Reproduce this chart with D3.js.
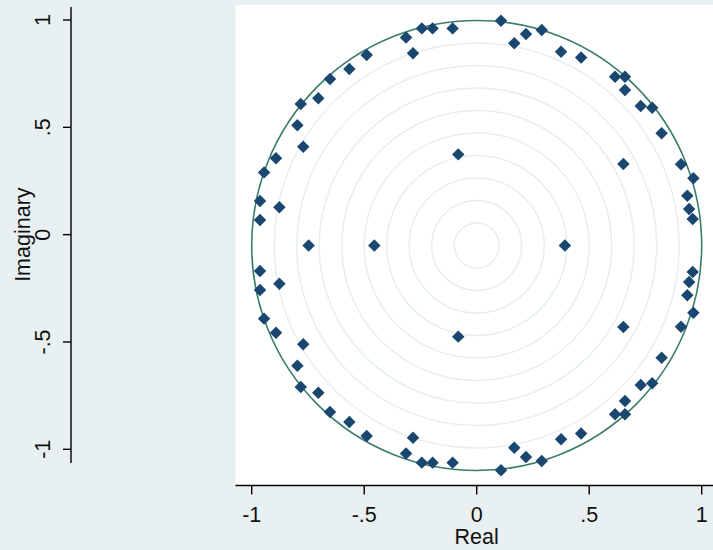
<!DOCTYPE html>
<html>
<head>
<meta charset="utf-8">
<script src="https://cdn.jsdelivr.net/npm/d3@7"></script>
<style>
  body { margin: 0; background: #e9f0f2; }
  svg { display: block; font-family: "Liberation Sans", Arial, sans-serif; }
</style>
</head>
<body>
<svg width="713" height="550"></svg>
<script>
// eigenvalues: complex pairs (upper half, conjugates added below) and real roots
const pairRe = [-0.244, -0.196, -0.107, -0.314, -0.283, -0.489, -0.566, -0.652, -0.704, -0.782,
                -0.797, -0.771, -0.892, -0.945, -0.082, -0.963, -0.877, -0.963,
                0.108, 0.219, 0.289, 0.167, 0.375, 0.464, 0.615, 0.659, 0.659, 0.729,
                0.780, 0.822, 0.908, 0.963, 0.936, 0.944, 0.960, 0.652];
const pairIm = [0.965, 0.965, 0.965, 0.924, 0.854, 0.847, 0.784, 0.740, 0.654, 0.629,
                0.534, 0.439, 0.388, 0.325, 0.405, 0.198, 0.170, 0.113,
                0.999, 0.940, 0.958, 0.899, 0.861, 0.836, 0.750, 0.750, 0.691, 0.620,
                0.612, 0.499, 0.361, 0.299, 0.221, 0.162, 0.118, 0.362];
const realRoots = [-0.747, -0.455, 0.392];

const gridRadii = [0.1, 0.2, 0.3, 0.4, 0.5, 0.6, 0.7, 0.8, 0.9];
const xTicks = [-1, -0.5, 0, 0.5, 1];
const yTicks = [-1, -0.5, 0, 0.5, 1];
const fmt = d => d === 0 ? "0" : String(d).replace("0.", ".");

const points = [];
pairRe.forEach((re, i) => {
  points.push({ re, im: pairIm[i] });
  points.push({ re, im: -pairIm[i] });
});
realRoots.forEach(re => points.push({ re, im: 0 }));

const svg = d3.select("svg");

// plot scales (equal aspect, unit circle)
const x = d3.scaleLinear().domain([-1, 1]).range([251.7, 701.7]);
const y = d3.scaleLinear().domain([-1, 1]).range([470.5, 20.5]);
// separate y axis as drawn in the figure
const yAxisScale = d3.scaleLinear().domain([-1, 1]).range([449.3, 20]);

// plot region
svg.append("rect")
  .attr("x", 235.5).attr("y", 5)
  .attr("width", 713 - 235.5).attr("height", 480)
  .attr("fill", "#ffffff");

const cx = x(0), cy = y(0), unit = x(1) - x(0);

// concentric grid circles
svg.append("g").selectAll("circle")
  .data(gridRadii)
  .join("circle")
  .attr("cx", cx).attr("cy", cy)
  .attr("r", d => d * unit)
  .attr("fill", "none")
  .attr("stroke", "#e6efef")
  .attr("stroke-width", 1.5);

// unit circle
svg.append("circle")
  .attr("cx", cx).attr("cy", cy)
  .attr("r", unit)
  .attr("fill", "none")
  .attr("stroke", "#3a7d6c")
  .attr("stroke-width", 1.6);

// eigenvalue markers
svg.append("g").selectAll("path")
  .data(points)
  .join("path")
  .attr("transform", d => "translate(" + x(d.re) + "," + y(d.im) + ") rotate(45)")
  .attr("d", d3.symbol().type(d3.symbolSquare).size(78))
  .attr("fill", "#1a476f");

// x axis
const xAxis = svg.append("g").attr("transform", "translate(0,485.5)");
xAxis.append("line")
  .attr("x1", 235.5).attr("x2", 713)
  .attr("stroke", "#000").attr("stroke-width", 1.4);
xAxis.selectAll(".tick")
  .data(xTicks)
  .join("line")
  .attr("x1", d => x(d)).attr("x2", d => x(d))
  .attr("y1", 0).attr("y2", 9)
  .attr("stroke", "#000").attr("stroke-width", 1.4);
xAxis.selectAll("text")
  .data(xTicks)
  .join("text")
  .attr("x", d => x(d)).attr("y", 36.5)
  .attr("text-anchor", "middle")
  .attr("font-size", 21.5)
  .attr("fill", "#111")
  .text(fmt);
svg.append("text")
  .attr("x", cx).attr("y", 544)
  .attr("text-anchor", "middle")
  .attr("font-size", 21.5)
  .attr("fill", "#111")
  .text("Real");

// y axis
const yAxis = svg.append("g").attr("transform", "translate(71,0)");
yAxis.append("line")
  .attr("y1", 7).attr("y2", 463)
  .attr("stroke", "#000").attr("stroke-width", 1.4);
yAxis.selectAll(".tick")
  .data(yTicks)
  .join("line")
  .attr("x1", -8).attr("x2", 0)
  .attr("y1", d => yAxisScale(d)).attr("y2", d => yAxisScale(d))
  .attr("stroke", "#000").attr("stroke-width", 1.4);
yAxis.selectAll("text")
  .data(yTicks)
  .join("text")
  .attr("transform", d => "translate(-21," + yAxisScale(d) + ") rotate(-90)")
  .attr("text-anchor", "middle")
  .attr("font-size", 21.5)
  .attr("fill", "#111")
  .text(fmt);
svg.append("text")
  .attr("transform", "translate(30," + yAxisScale(0) + ") rotate(-90)")
  .attr("text-anchor", "middle")
  .attr("font-size", 21.5)
  .attr("fill", "#111")
  .text("Imaginary");
</script>
</body>
</html>
